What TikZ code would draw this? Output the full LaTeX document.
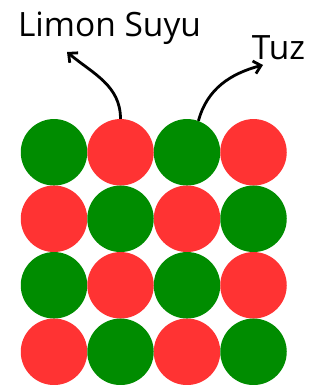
\documentclass[tikz,border=0pt]{standalone}
\usepackage{fontspec}
\setmainfont{Open Sans}
\usepackage{tikz}
\usetikzlibrary{positioning, arrows.meta}
\definecolor{ballgreen}{RGB}{0,140,0}
\definecolor{ballred}{RGB}{255,51,51}

\begin{document}
\begin{tikzpicture}[x=1pt, y=1pt,
    ball/.style={circle, minimum size=66.5pt, inner sep=0pt, draw=none},
    lbl/.style={anchor=base, font=\fontsize{33.5}{40}\selectfont},
    arr/.style={line width=2.8pt, -{Straight Barb[length=7pt, width=13pt]}}]
    \useasboundingbox (0,0) rectangle (329,385);
    % 4x4 grid of particles
    \foreach \r in {1,...,4} {
        \foreach \c in {1,...,4} {
            \pgfmathtruncatemacro{\parity}{mod(\r+\c,2)}
            \ifnum\parity=0 \def\col{ballgreen}\else \def\col{ballred}\fi
            \node[ball, fill=\col] (b\r\c) at ({54+(\c-1)*66.5}, {232.7-(\r-1)*66.5}) {};
        }
    }
    \node[lbl] (lemon) at (109.5,348.3) {Limon Suyu};
    \node[lbl] (salt) at (278.5,325) {Tuz};
    \coordinate (lemontip) at (67,333);
    \coordinate (salttip) at (263,320);
    \draw[arr] (b12.north) to[out=90, in=-40] (lemontip);
    \draw[arr] (b13.70) to[out=75, in=195] (salttip);
\end{tikzpicture}
\end{document}
